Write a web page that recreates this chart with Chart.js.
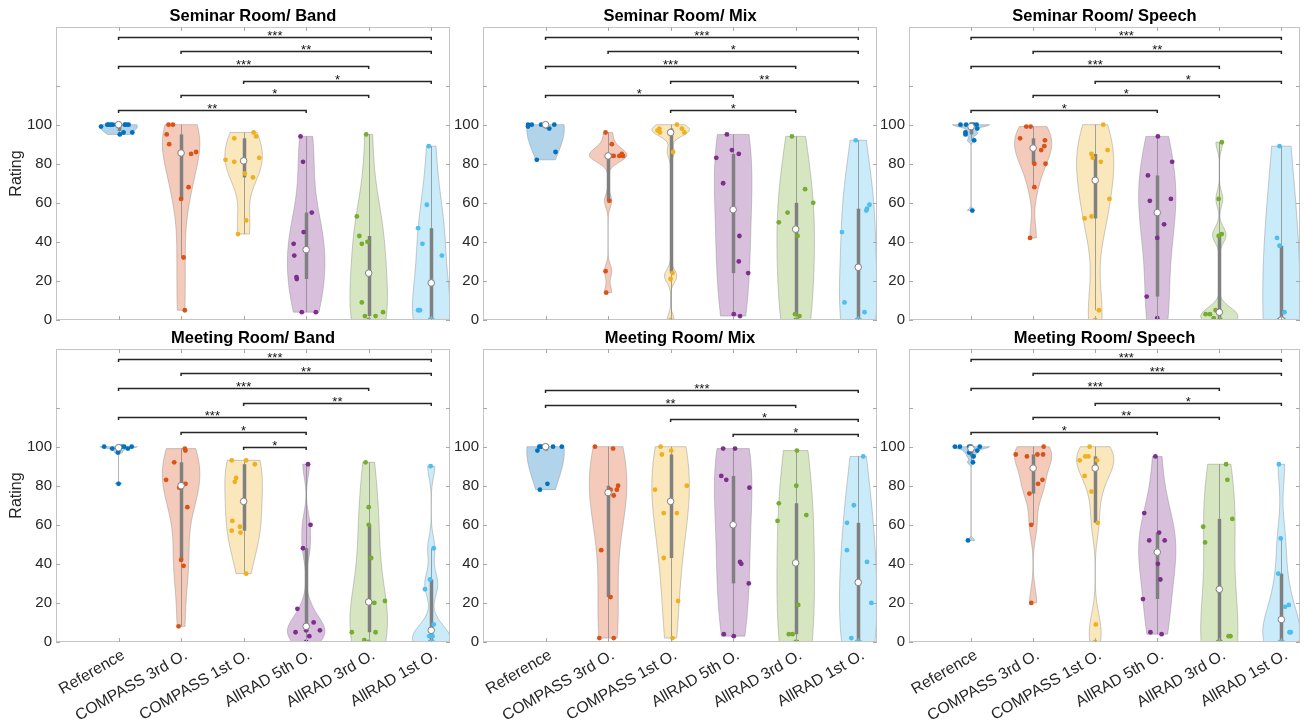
<!DOCTYPE html>
<html>
<head>
<meta charset="utf-8">
<script src="https://cdn.jsdelivr.net/npm/chart.js@4.4.1/dist/chart.umd.min.js"></script>
<style>
  html, body { margin: 0; padding: 0; background: #fff; }
  #wrap { position: relative; width: 1305px; height: 725px; }
  #wrap canvas { position: absolute; left: 0; top: 0; }
</style>
</head>
<body>
<div id="wrap">
  <canvas id="c0" width="1305" height="725"></canvas>
  <canvas id="c1" width="1305" height="725"></canvas>
  <canvas id="c2" width="1305" height="725"></canvas>
  <canvas id="c3" width="1305" height="725"></canvas>
  <canvas id="c4" width="1305" height="725"></canvas>
  <canvas id="c5" width="1305" height="725"></canvas>
</div>
<script>
const categories = ['Reference', 'COMPASS 3rd O.', 'COMPASS 1st O.', 'AllRAD 5th O.', 'AllRAD 3rd O.', 'AllRAD 1st O.'];
const titles = ['Seminar Room/ Band', 'Seminar Room/ Mix', 'Seminar Room/ Speech',
                'Meeting Room/ Band', 'Meeting Room/ Mix', 'Meeting Room/ Speech'];
const yTickLabels = [0, 20, 40, 60, 80, 100];
const yTickMarks = [0, 20, 40, 60, 80, 100, 120];
const colors = ['#0072BD', '#D95319', '#EDB120', '#7E2F8E', '#77AC30', '#4DBEEE'];

// ratings, one array per system
const seminarBandRatings = [
  [99, 100, 100, 100, 100, 100, 100, 100, 95, 96, 96],
  [100, 100, 95, 90, 85, 86, 68, 62, 32, 5],
  [82, 81, 93, 96, 94, 83, 75, 73, 51, 44],
  [94, 81, 55, 45, 39, 33, 22, 21, 4, 4],
  [95, 53, 43, 39, 40, 9, 2, 2, 4, 0],
  [89, 59, 47, 39, 33, 5, 0, 0, 0, 5]
];
const seminarBandJitter = [
  [-0.28, -0.18, -0.155, -0.12, -0.09, 0.1, 0.12, 0.16, 0.02, 0.08, 0.22],
  [-0.2, -0.13, -0.23, -0.19, 0.16, 0.24, 0.12, 0, 0.04, 0.06],
  [-0.29, -0.15, -0.15, 0.16, 0.2, 0.25, 0.02, 0.15, 0.04, -0.09],
  [-0.09, -0.05, 0.09, -0.04, -0.2, -0.19, -0.155, -0.15, -0.07, 0.155],
  [-0.04, -0.19, -0.15, -0.11, -0.02, -0.11, -0.06, 0.11, 0.23, 0],
  [-0.04, -0.07, -0.21, -0.14, 0.17, -0.21, 0, 0.02, -0.02, -0.18]
];
const seminarBandSig = [[1, 4, '**'], [2, 5, '*'], [3, 6, '*'], [1, 5, '***'], [2, 6, '**'], [1, 6, '***']];

const seminarMixRatings = [
  [100, 99, 100, 100, 98, 100, 82, 86, 100, 100],
  [96, 90, 84, 84, 84, 85, 84, 61, 25, 14],
  [97, 98, 96, 100, 98, 96, 86, 24, 21, 0],
  [95, 83, 70, 87, 85, 43, 30, 24, 3, 2],
  [94, 67, 60, 55, 50, 43, 3, 2, 0, 0],
  [92, 59, 57, 56, 45, 9, 4, 0, 0, 0]
];
const seminarMixJitter = [
  [-0.28, -0.28, -0.22, -0.07, 0.06, 0.14, -0.14, 0.16, 0, 0.01],
  [-0.04, 0.06, 0.05, 0.09, 0.18, 0.22, 0.24, 0.02, -0.04, -0.03],
  [-0.21, -0.18, -0.17, 0.1, 0.18, 0.22, 0.04, 0.03, 0, 0],
  [-0.1, -0.27, -0.16, -0.02, 0.09, 0.1, 0.09, 0.24, 0.01, 0.11],
  [-0.06, 0.15, 0.28, -0.13, -0.27, 0.03, -0.01, 0.06, 0, 0.02],
  [-0.04, 0.18, 0.14, 0.13, -0.26, -0.22, 0.1, 0, 0.02, -0.02]
];
const seminarMixSig = [[3, 5, '*'], [1, 4, '*'], [3, 6, '**'], [1, 5, '***'], [2, 6, '*'], [1, 6, '***']];

const seminarSpeechRatings = [
  [100, 100, 100, 100, 96, 95, 98, 92, 56, 100],
  [99, 99, 93, 92, 89, 87, 80, 80, 68, 42],
  [100, 87, 85, 83, 81, 62, 53, 52, 5, 0],
  [94, 81, 74, 61, 62, 49, 42, 12, 1, 0],
  [91, 62, 44, 43, 3, 5, 1, 0, 0, 3],
  [89, 42, 38, 4, 0, 0, 0, 0, 0, 0]
];
const seminarSpeechJitter = [
  [-0.17, -0.08, 0.04, 0.09, -0.09, -0.09, 0.1, 0.05, 0.02, 0],
  [-0.11, -0.04, -0.21, 0.19, 0.18, 0.13, 0.02, 0.2, 0.02, -0.05],
  [0.13, 0.2, -0.06, -0.04, 0.09, 0.23, -0.06, -0.17, 0.06, 0],
  [0.01, 0.24, -0.15, -0.12, 0.22, 0.11, 0, -0.17, 0, 0],
  [0.04, -0.01, 0.04, -0.01, -0.22, -0.06, -0.09, 0, 0.02, -0.15],
  [-0.03, -0.07, -0.03, 0.05, 0, 0.02, -0.02, 0.04, -0.04, 0.01]
];
const seminarSpeechSig = [[1, 4, '*'], [2, 5, '*'], [3, 6, '*'], [1, 5, '***'], [2, 6, '**'], [1, 6, '***']];

const meetingBandRatings = [
  [100, 99, 97, 98, 100, 100, 99, 100, 81, 100],
  [99, 98, 92, 83, 81, 79, 69, 42, 39, 8],
  [93, 93, 91, 84, 82, 62, 59, 57, 56, 35],
  [91, 60, 48, 17, 5, 10, 6, 0, 6, 3],
  [92, 69, 60, 43, 20, 21, 5, 5, 1, 0],
  [90, 48, 32, 27, 9, 3, 0, 0, 0, 3]
];
const meetingBandJitter = [
  [-0.23, -0.1, -0.01, 0, 0.05, 0.09, 0.15, 0.21, 0, 0],
  [0.06, 0.07, -0.11, -0.24, 0.07, -0.03, 0.1, 0, 0.04, -0.04],
  [-0.19, 0.04, 0.18, -0.12, -0.14, -0.18, -0.06, -0.19, -0.05, 0.04],
  [0.03, 0.07, -0.05, -0.14, -0.17, 0.12, 0.22, 0, 0, 0.05],
  [-0.05, 0, 0, 0.04, 0.09, 0.26, -0.27, 0.11, -0.07, 0],
  [-0.01, 0.04, -0.02, -0.1, 0.04, -0.03, 0, 0.02, -0.02, 0.02]
];
const meetingBandSig = [[3, 4, '*'], [2, 4, '*'], [1, 4, '***'], [3, 6, '**'], [1, 5, '***'], [2, 6, '**'], [1, 6, '***']];

const meetingMixRatings = [
  [98, 100, 100, 100, 100, 81, 78, 100, 100, 100],
  [100, 99, 80, 78, 78, 75, 47, 23, 2, 2],
  [100, 98, 96, 78, 80, 66, 66, 43, 21, 2],
  [99, 99, 85, 83, 79, 41, 40, 30, 4, 3],
  [98, 80, 71, 62, 65, 19, 4, 4, 0, 0],
  [95, 70, 61, 47, 41, 20, 2, 0, 0, 0]
];
const meetingMixJitter = [
  [-0.13, -0.1, -0.06, 0.12, 0.26, 0.03, -0.09, 0, -0.08, 0.02],
  [-0.21, 0.08, 0.16, 0.14, 0.04, 0.09, -0.11, 0.04, -0.14, 0.09],
  [-0.16, 0.01, -0.14, -0.25, 0.26, -0.11, 0.1, -0.11, 0.12, 0.03],
  [-0.16, 0.03, -0.19, -0.11, 0.26, 0.11, 0.13, 0.25, -0.15, 0.01],
  [0.02, 0.01, -0.27, -0.29, 0.17, 0.04, -0.11, -0.05, 0, 0.02],
  [0.08, -0.07, -0.18, -0.18, 0.14, 0.21, -0.11, 0, 0.02, -0.02]
];
const meetingMixSig = [[4, 6, '*'], [3, 6, '*'], [1, 5, '**'], [1, 6, '***']];

const meetingSpeechRatings = [
  [100, 100, 100, 100, 97, 95, 98, 92, 52, 100],
  [96, 95, 96, 96, 100, 83, 81, 76, 60, 20],
  [100, 95, 95, 93, 93, 85, 77, 61, 9, 0],
  [95, 66, 52, 56, 52, 40, 32, 22, 5, 4],
  [91, 83, 63, 59, 51, 3, 0, 0, 0, 3],
  [91, 53, 35, 19, 18, 5, 0, 0, 0, 5]
];
const meetingSpeechJitter = [
  [-0.26, -0.18, -0.03, 0.14, -0.03, 0.04, 0.1, 0.03, -0.05, 0],
  [-0.28, -0.1, 0.07, 0.16, 0.17, 0.15, 0.08, -0.06, -0.03, -0.03],
  [-0.09, -0.16, -0.11, -0.25, 0.03, -0.17, -0.06, 0.04, 0.01, 0],
  [-0.03, -0.21, -0.13, 0.03, 0.12, 0.01, 0.05, -0.23, -0.11, 0.07],
  [0.11, 0.13, 0.21, -0.26, -0.23, 0.18, 0, 0.02, -0.02, 0.15],
  [-0.04, -0.01, -0.05, 0.12, 0.06, 0.15, 0, 0.02, -0.02, 0.13]
];
const meetingSpeechSig = [[1, 4, '*'], [2, 5, '**'], [3, 6, '*'], [1, 5, '***'], [2, 6, '***'], [1, 6, '***']];

const panels = [
  { ratings: seminarBandRatings, jitter: seminarBandJitter, sig: seminarBandSig, sigBase: 107.5 },
  { ratings: seminarMixRatings, jitter: seminarMixJitter, sig: seminarMixSig, sigBase: 107.5 },
  { ratings: seminarSpeechRatings, jitter: seminarSpeechJitter, sig: seminarSpeechSig, sigBase: 107.5 },
  { ratings: meetingBandRatings, jitter: meetingBandJitter, sig: meetingBandSig, sigBase: 100 },
  { ratings: meetingMixRatings, jitter: meetingMixJitter, sig: meetingMixSig, sigBase: 106.5 },
  { ratings: meetingSpeechRatings, jitter: meetingSpeechJitter, sig: meetingSpeechSig, sigBase: 107.5 }
];

const FONT = "'Liberation Sans', Arial, Helvetica, sans-serif";
const plotLeft = [56, 483, 909];
const plotTop = [27, 349];
const plotW = 394, plotH = 293;
const xAxisH = [20, 80];

// matlab style quantile
function quantile(sorted, p) {
  const n = sorted.length;
  const pos = n * p + 0.5;
  if (pos <= 1) return sorted[0];
  if (pos >= n) return sorted[n - 1];
  const lo = Math.floor(pos), f = pos - lo;
  return sorted[lo - 1] + f * (sorted[lo] - sorted[lo - 1]);
}

function boxStats(vals) {
  const s = [...vals].sort((a, b) => a - b);
  const q1 = quantile(s, 0.25), q3 = quantile(s, 0.75), med = quantile(s, 0.5);
  const iqr = q3 - q1;
  let lo = q1 - 1.5 * iqr, hi = q3 + 1.5 * iqr;
  const above = s.filter(v => v > lo), below = s.filter(v => v < hi);
  lo = above.length ? Math.max(lo, Math.min(...above)) : q1;
  hi = below.length ? Math.min(hi, Math.max(...below)) : q3;
  return { q1, q3, med, lo, hi };
}

// kernel density like ksdensity, cut at data range, max half width 0.3
function violinOutline(vals) {
  const s = [...vals].sort((a, b) => a - b);
  const n = s.length, lo = s[0], hi = s[n - 1];
  const med = quantile(s, 0.5);
  const dev = s.map(v => Math.abs(v - med)).sort((a, b) => a - b);
  let sig = quantile(dev, 0.5) / 0.6745;
  if (sig <= 0) sig = hi - lo;
  const bw = sig * Math.pow(4 / (3 * n), 0.2);
  const pts = [];
  for (let k = 0; k < 100; k++) {
    const v = lo + (hi - lo) * k / 99;
    let d = 0;
    s.forEach(u => { const z = (v - u) / bw; d += Math.exp(-0.5 * z * z); });
    pts.push([v, d]);
  }
  const m = Math.max(...pts.map(q => q[1]));
  return [[lo, 0], ...pts.map(([v, d]) => [v, 0.3 * d / m]), [hi, 0]];
}

function fade(hex, a) {
  const r = parseInt(hex.slice(1, 3), 16), g = parseInt(hex.slice(3, 5), 16), b = parseInt(hex.slice(5, 7), 16);
  return `rgba(${r},${g},${b},${a})`;
}

function panelPlugin(p, idx) {
  return {
    id: 'violinPanel' + idx,
    beforeDatasetsDraw(chart) {
      const { ctx, chartArea: a, scales: { x, y } } = chart;
      ctx.save();
      ctx.beginPath();
      ctx.rect(a.left, a.top, a.width, a.height);
      ctx.clip();
      p.ratings.forEach((vals, i) => {
        const pos = i + 1;
        const outline = violinOutline(vals);
        ctx.beginPath();
        outline.forEach(([v, w], k) => {
          const px = x.getPixelForValue(pos + w), py = y.getPixelForValue(v);
          if (k === 0) ctx.moveTo(px, py); else ctx.lineTo(px, py);
        });
        for (let k = outline.length - 1; k >= 0; k--) {
          ctx.lineTo(x.getPixelForValue(pos - outline[k][1]), y.getPixelForValue(outline[k][0]));
        }
        ctx.closePath();
        ctx.fillStyle = fade(colors[i], 0.3);
        ctx.fill();
        ctx.strokeStyle = 'rgba(128,128,128,0.5)';
        ctx.lineWidth = 0.8;
        ctx.stroke();

        const st = boxStats(vals);
        const cx = Math.round(x.getPixelForValue(pos)) + 0.5;
        ctx.strokeStyle = 'rgba(128,128,128,0.7)';
        ctx.lineWidth = 1;
        ctx.beginPath();
        ctx.moveTo(cx, y.getPixelForValue(st.lo));
        ctx.lineTo(cx, y.getPixelForValue(st.hi));
        ctx.stroke();
        ctx.strokeStyle = '#808080';
        ctx.lineWidth = 3.5;
        ctx.beginPath();
        ctx.moveTo(cx, y.getPixelForValue(st.q1));
        ctx.lineTo(cx, y.getPixelForValue(st.q3));
        ctx.stroke();
      });
      ctx.restore();
    },
    afterDraw(chart) {
      const { ctx, chartArea: a, scales: { x, y } } = chart;
      ctx.save();
      // significance brackets
      ctx.strokeStyle = '#262626';
      ctx.lineWidth = 1.5;
      ctx.fillStyle = '#111111';
      ctx.font = `13px ${FONT}`;
      ctx.textAlign = 'center';
      ctx.textBaseline = 'alphabetic';
      p.sig.forEach(([from, to, stars], k) => {
        const ly = Math.round(y.getPixelForValue(p.sigBase + 7.5 * k)) + 0.5;
        const x1 = x.getPixelForValue(from), x2 = x.getPixelForValue(to);
        ctx.beginPath();
        ctx.moveTo(x1, ly + 2.5);
        ctx.lineTo(x1, ly);
        ctx.lineTo(x2, ly);
        ctx.lineTo(x2, ly + 2.5);
        ctx.stroke();
        ctx.fillText(stars, (x1 + x2) / 2, ly + 2.5);
      });

      // axes box with inward ticks
      ctx.strokeStyle = '#c4c4c4';
      ctx.lineWidth = 1;
      ctx.strokeRect(a.left + 0.5, a.top + 0.5, a.width - 1, a.height - 1);
      ctx.strokeStyle = '#a8a8a8';
      ctx.beginPath();
      categories.forEach((c, i) => {
        const px = Math.round(x.getPixelForValue(i + 1)) + 0.5;
        ctx.moveTo(px, a.bottom); ctx.lineTo(px, a.bottom - 4);
        ctx.moveTo(px, a.top); ctx.lineTo(px, a.top + 4);
      });
      yTickMarks.forEach(v => {
        const py = Math.round(y.getPixelForValue(v)) + 0.5;
        ctx.moveTo(a.left, py); ctx.lineTo(a.left + 4, py);
        ctx.moveTo(a.right, py); ctx.lineTo(a.right - 4, py);
      });
      ctx.stroke();

      // panel title
      ctx.fillStyle = '#000000';
      ctx.font = `bold 16.5px ${FONT}`;
      ctx.textAlign = 'center';
      ctx.textBaseline = 'middle';
      ctx.fillText(titles[idx], (a.left + a.right) / 2, a.top - 10.5);
      ctx.restore();
    }
  };
}

panels.forEach((p, idx) => {
  const col = idx % 3, row = Math.floor(idx / 3);
  const left = plotLeft[col], top = plotTop[row];

  const pointSets = p.ratings.map((vals, i) => ({
    label: categories[i],
    data: vals.map((v, k) => ({ x: i + 1 + p.jitter[i][k], y: v })),
    backgroundColor: colors[i],
    borderWidth: 0,
    pointRadius: 2.4,
    order: 1
  }));
  const medianSet = {
    label: 'median',
    data: p.ratings.map((vals, i) => ({ x: i + 1, y: boxStats(vals).med })),
    backgroundColor: '#ffffff',
    borderColor: '#808080',
    borderWidth: 1,
    pointRadius: 3.3,
    order: 0
  };

  new Chart(document.getElementById('c' + idx), {
    type: 'scatter',
    data: { datasets: [medianSet, ...pointSets] },
    options: {
      responsive: false,
      animation: false,
      devicePixelRatio: 1,
      events: [],
      layout: {
        padding: {
          left: left - 56,
          right: 1305 - left - plotW,
          top: top,
          bottom: 725 - top - plotH - xAxisH[row]
        }
      },
      plugins: { legend: { display: false }, tooltip: { enabled: false }, title: { display: false } },
      scales: {
        x: {
          type: 'linear',
          min: 0,
          max: 6.3,
          bounds: 'data',
          grid: { display: false, drawTicks: false },
          border: { display: false },
          afterBuildTicks: s => { s.ticks = categories.map((c, i) => ({ value: i + 1 })); },
          afterFit: s => { s.height = xAxisH[row]; },
          ticks: {
            display: row === 1,
            autoSkip: false,
            maxRotation: 30,
            minRotation: 30,
            padding: 4,
            labelOffset: 5,
            color: '#262626',
            font: { family: FONT, size: 15.8 },
            callback: v => categories[v - 1]
          }
        },
        y: {
          type: 'linear',
          min: 0,
          max: 150,
          bounds: 'data',
          grid: { display: false, drawTicks: false },
          border: { display: false },
          afterBuildTicks: s => { s.ticks = yTickLabels.map(v => ({ value: v })); },
          afterFit: s => { s.width = 56; },
          ticks: { padding: 4, color: '#262626', font: { family: FONT, size: 15 } },
          title: {
            display: col === 0,
            text: 'Rating',
            color: '#262626',
            font: { family: FONT, size: 16 },
            padding: { top: 7, bottom: 0 }
          }
        }
      }
    },
    plugins: [panelPlugin(p, idx)]
  });
});
</script>
</body>
</html>
